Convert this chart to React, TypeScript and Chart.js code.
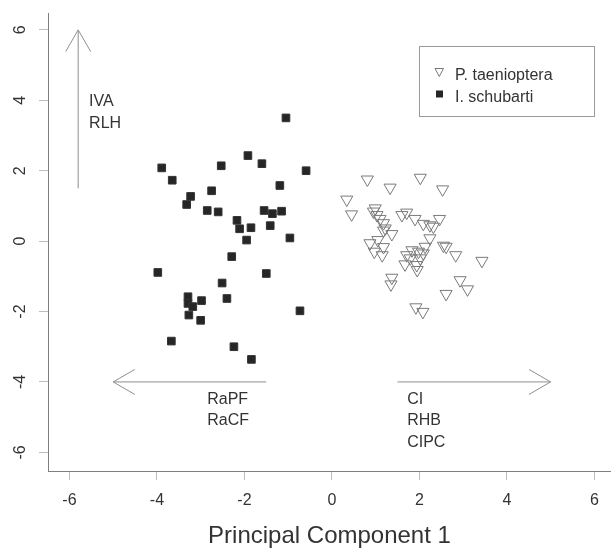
import React, { useEffect, useRef } from 'react';
import { Chart, registerables } from 'chart.js';

Chart.register(...registerables);

// P. taenioptera (open down-triangles)
const taeniopteraX = [0.81, 2.02, 1.33, 2.53, 0.34, 0.45, 0.99, 0.95, 1.03, 1.10, 1.18, 1.22, 1.18, 1.37, 1.60, 1.71, 1.90, 2.09, 2.24, 2.32, 2.46, 2.24, 0.87, 1.05, 0.97, 1.18, 1.15, 1.83, 1.71, 1.67, 1.98, 2.13, 2.02, 1.94, 1.95, 2.55, 2.61, 2.83, 3.43, 1.37, 1.35, 2.93, 3.10, 2.61, 1.92, 2.08, 1.79, 2.09];
const taeniopteraY = [1.75, 1.80, 1.52, 1.47, 1.18, 0.76, 0.93, 0.84, 0.74, 0.63, 0.51, 0.36, 0.30, 0.20, 0.74, 0.81, 0.63, 0.49, 0.45, 0.41, 0.63, 0.08, -0.06, 0.03, -0.30, -0.17, -0.40, -0.26, -0.40, -0.66, -0.30, -0.16, -0.49, -0.68, -0.82, -0.13, -0.16, -0.40, -0.56, -1.04, -1.23, -1.11, -1.37, -1.50, -1.88, -2.01, -0.49, -0.35];

// I. schubarti (filled squares)
const schubartiX = [-1.05, -1.92, -1.60, -2.53, -3.89, -0.59, -3.65, -1.19, -2.75, -3.23, -3.32, -2.85, -2.60, -1.55, -1.36, -1.15, -2.17, -2.11, -1.85, -1.41, -1.95, -0.96, -2.29, -3.98, -1.50, -2.51, -3.29, -3.29, -2.98, -3.18, -2.40, -3.27, -3.00, -0.73, -3.67, -2.24, -1.84];
const schubartiY = [3.50, 2.43, 2.20, 2.14, 2.08, 2.00, 1.73, 1.58, 1.43, 1.27, 1.04, 0.87, 0.83, 0.87, 0.78, 0.85, 0.59, 0.35, 0.38, 0.44, 0.03, 0.09, -0.44, -0.89, -0.92, -1.19, -1.58, -1.77, -1.69, -1.86, -1.63, -2.10, -2.25, -1.98, -2.84, -3.00, -3.36];

const xTicks = [-6, -4, -2, 0, 2, 4, 6];
const yTicks = [-6, -4, -2, 0, 2, 4, 6];

// Loading arrows
const arrowStartX = [-5.8, -1.5, 1.5];
const arrowStartY = [1.5, -4, -4];
const arrowEndX = [-5.8, -5, 5];
const arrowEndY = [6.0, -4, -4];

// Arrow labels
const labelLines = [['IVA', 'RLH'], ['RaPF', 'RaCF'], ['CI', 'RHB', 'CIPC']];
const labelX = [-5.55, -2.85, 1.72];
const labelY = [3.95, -4.5, -4.5];

const legendLabels = ['P. taenioptera', 'I. schubarti'];
const xTitle = 'Principal Component 1';

const FONT = '"Liberation Sans", Arial, Helvetica, sans-serif';
const TEXT = '#333333';

export default function App() {
  const ref = useRef<HTMLCanvasElement>(null);

  useEffect(() => {
    document.body.style.margin = '0';
    const canvas = ref.current;
    if (!canvas) return;

    const overlay = {
      id: 'overlay',
      afterDraw(chart: any) {
        const ctx = chart.ctx as CanvasRenderingContext2D;
        const xs = chart.scales.x;
        const ys = chart.scales.y;
        ctx.save();

        // rotated y tick labels (R style)
        ctx.fillStyle = TEXT;
        ctx.font = `16px ${FONT}`;
        yTicks.forEach((v) => {
          const py = ys.getPixelForValue(v);
          ctx.save();
          ctx.translate(25, py);
          ctx.rotate(-Math.PI / 2);
          ctx.textAlign = 'center';
          ctx.textBaseline = 'alphabetic';
          ctx.fillText(String(v), 0, 0);
          ctx.restore();
        });

        // x tick labels
        ctx.textAlign = 'center';
        ctx.textBaseline = 'middle';
        xTicks.forEach((v) => {
          ctx.fillText(String(v), xs.getPixelForValue(v), 501);
        });

        // arrows
        ctx.strokeStyle = '#8f8f8f';
        ctx.lineWidth = 1;
        for (let i = 0; i < arrowStartX.length; i++) {
          const x0 = xs.getPixelForValue(arrowStartX[i]);
          const y0 = ys.getPixelForValue(arrowStartY[i]);
          const x1 = xs.getPixelForValue(arrowEndX[i]);
          const y1 = ys.getPixelForValue(arrowEndY[i]);
          const ang = Math.atan2(y1 - y0, x1 - x0);
          const L = 25;
          const a = Math.PI / 6;
          ctx.beginPath();
          ctx.moveTo(x0, y0);
          ctx.lineTo(x1, y1);
          ctx.moveTo(x1 - L * Math.cos(ang - a), y1 - L * Math.sin(ang - a));
          ctx.lineTo(x1, y1);
          ctx.lineTo(x1 - L * Math.cos(ang + a), y1 - L * Math.sin(ang + a));
          ctx.stroke();
        }

        // arrow labels
        ctx.fillStyle = TEXT;
        ctx.font = `16px ${FONT}`;
        ctx.textAlign = 'left';
        ctx.textBaseline = 'middle';
        for (let i = 0; i < labelLines.length; i++) {
          const px = xs.getPixelForValue(labelX[i]);
          const py = ys.getPixelForValue(labelY[i]);
          labelLines[i].forEach((t, j) => ctx.fillText(t, px, py + j * 21.5));
        }

        // legend
        ctx.strokeStyle = '#9a9a9a';
        ctx.lineWidth = 1;
        ctx.strokeRect(419.5, 46.5, 175, 70);
        // triangle symbol
        ctx.strokeStyle = '#777777';
        ctx.beginPath();
        ctx.moveTo(435, 68.5);
        ctx.lineTo(443.5, 68.5);
        ctx.lineTo(439.25, 76.5);
        ctx.closePath();
        ctx.stroke();
        // square symbol
        ctx.fillStyle = '#262626';
        ctx.fillRect(436, 90.5, 7, 7);
        ctx.fillStyle = TEXT;
        ctx.font = `16px ${FONT}`;
        ctx.textAlign = 'left';
        ctx.textBaseline = 'alphabetic';
        ctx.fillText(legendLabels[0], 455, 79.5);
        ctx.fillText(legendLabels[1], 455, 101.5);

        ctx.restore();
      },
    };

    const chart = new Chart(canvas, {
      type: 'scatter',
      data: {
        datasets: [
          {
            label: legendLabels[0],
            data: taeniopteraX.map((x, i) => ({ x, y: taeniopteraY[i] })),
            pointStyle: 'triangle',
            rotation: 180,
            pointRadius: 7,
            backgroundColor: 'rgba(0,0,0,0)',
            borderColor: '#7a7a7a',
            borderWidth: 1,
          },
          {
            label: legendLabels[1],
            data: schubartiX.map((x, i) => ({ x, y: schubartiY[i] })),
            pointStyle: 'rect',
            pointRadius: 5.4,
            backgroundColor: '#262626',
            borderColor: '#333333',
            borderWidth: 1,
          },
        ],
      },
      options: {
        responsive: false,
        animation: false,
        layout: { autoPadding: false, padding: { top: 13, left: 0, right: 0, bottom: 0 } },
        plugins: { legend: { display: false }, tooltip: { enabled: false } },
        scales: {
          x: {
            type: 'linear',
            min: -6.49,
            max: 6.38,
            afterBuildTicks: (s: any) => {
              s.ticks = xTicks.map((v) => ({ value: v }));
            },
            afterFit: (s: any) => {
              s.height = 80;
              s.paddingLeft = 0;
              s.paddingRight = 0;
            },
            grid: { drawOnChartArea: false, drawTicks: true, tickLength: 9, color: '#bdbdbd' },
            border: { display: true, color: '#7f7f7f', width: 1 },
            ticks: { display: false },
            title: {
              display: true,
              text: xTitle,
              font: { size: 24, family: FONT },
              color: TEXT,
              padding: { top: 0, bottom: 0 },
            },
          },
          y: {
            type: 'linear',
            min: -6.53,
            max: 6.48,
            afterBuildTicks: (s: any) => {
              s.ticks = yTicks.map((v) => ({ value: v }));
            },
            afterFit: (s: any) => {
              s.width = 48;
              s.paddingTop = 0;
              s.paddingBottom = 0;
            },
            grid: { drawOnChartArea: false, drawTicks: true, tickLength: 9, color: '#bdbdbd' },
            border: { display: true, color: '#7f7f7f', width: 1 },
            ticks: { display: false },
          },
        },
      },
      plugins: [overlay],
    } as any);

    return () => chart.destroy();
  }, []);

  return (
    <canvas
      ref={ref}
      width={611}
      height={551}
      style={{ display: 'block', width: 611, height: 551 }}
    />
  );
}
